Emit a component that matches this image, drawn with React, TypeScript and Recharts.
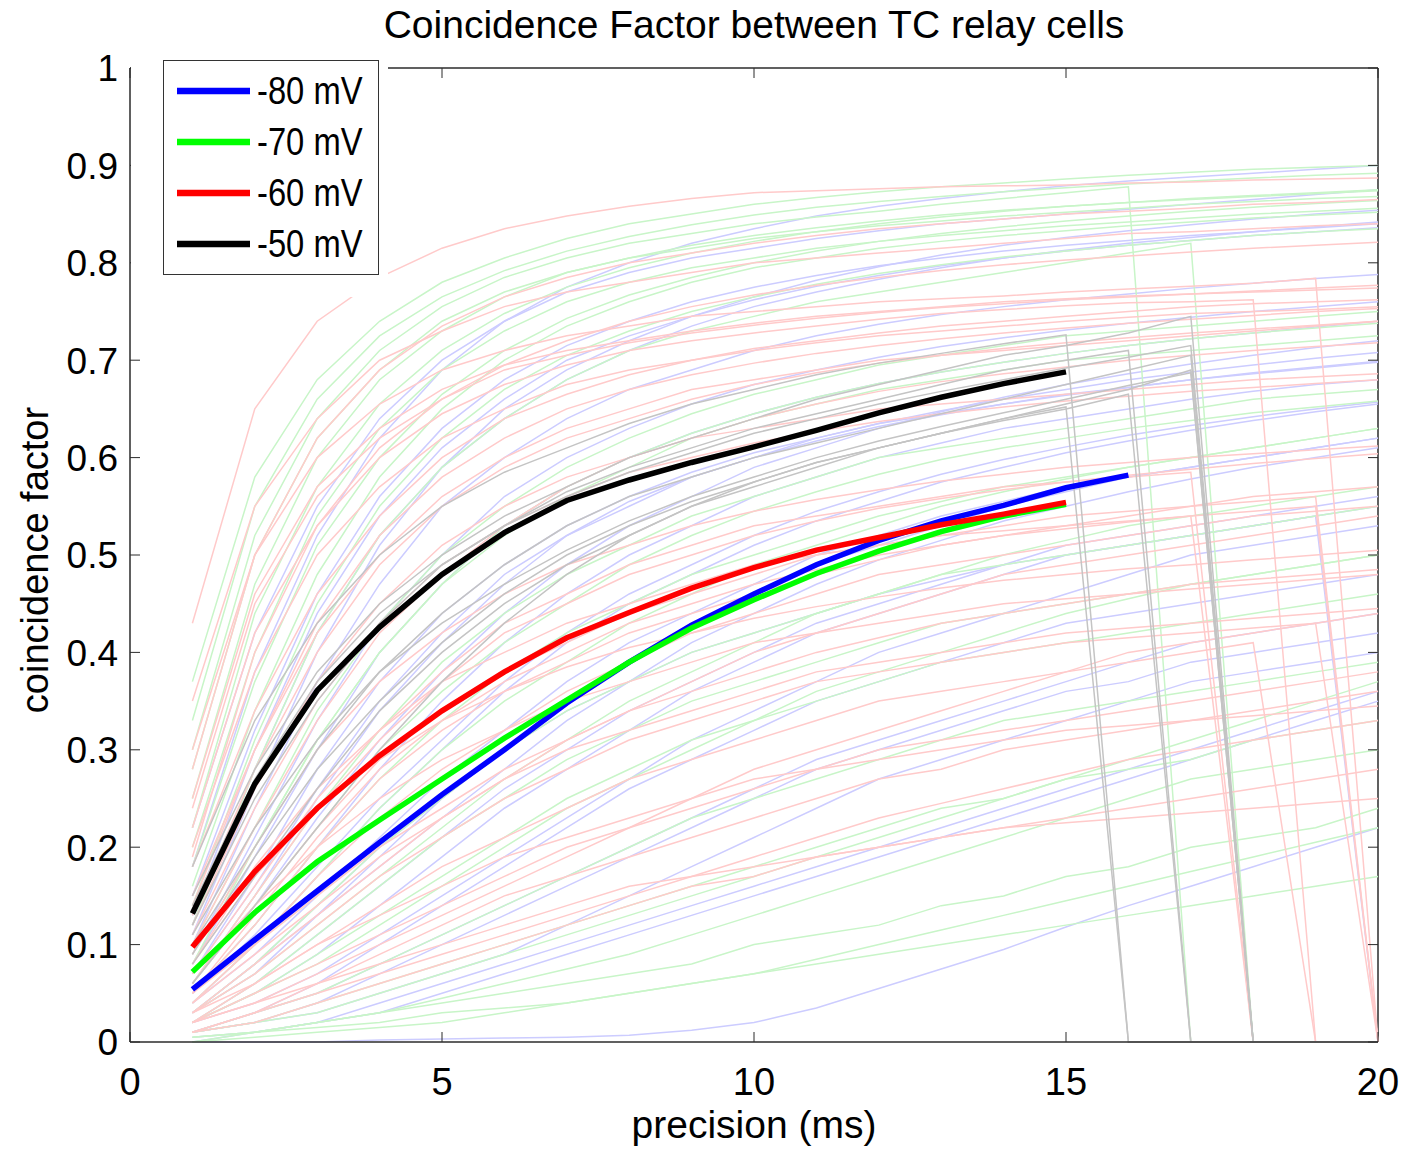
import React from 'react';
import { LineChart, Line, XAxis, YAxis, Legend, ReferenceLine } from 'recharts';

// precision windows (ms) at which the coincidence factor was computed
const PRECISION_MS = [1, 2, 3, 4, 5, 6, 7, 8, 9, 10, 11, 12, 13, 14, 15, 16, 17, 18, 19, 20];

// population means (thick lines)
const MEAN_80 = [0.054, 0.105, 0.155, 0.205, 0.254, 0.3, 0.348, 0.39, 0.428, 0.46, 0.49, 0.515, 0.535, 0.551, 0.569, 0.582];
const MEAN_70 = [0.072, 0.133, 0.185, 0.228, 0.27, 0.312, 0.351, 0.39, 0.425, 0.454, 0.481, 0.504, 0.524, 0.54, 0.552];
const MEAN_60 = [0.0975, 0.175, 0.24, 0.294, 0.34, 0.38, 0.415, 0.441, 0.466, 0.487, 0.505, 0.518, 0.531, 0.542, 0.554];
const MEAN_50 = [0.132, 0.265, 0.361, 0.426, 0.48, 0.523, 0.556, 0.577, 0.595, 0.611, 0.628, 0.646, 0.662, 0.676, 0.688];

// individual cell pairs (faint lines), zeros where the trace ran out
const TRIALS_80 = [
  [0.22, 0.42, 0.55, 0.64, 0.7, 0.74, 0.77, 0.79, 0.805, 0.815, 0.825, 0.833, 0.84, 0.845, 0.85, 0.855, 0.86, 0.865, 0.87, 0.875],
  [0.15, 0.32, 0.46, 0.56, 0.63, 0.68, 0.715, 0.74, 0.76, 0.775, 0.787, 0.797, 0.805, 0.812, 0.818, 0.823, 0.828, 0.832, 0.836, 0.84],
  [0.1, 0.24, 0.37, 0.47, 0.55, 0.6, 0.64, 0.67, 0.69, 0.71, 0.725, 0.737, 0.747, 0.755, 0.762, 0.768, 0.774, 0.779, 0.784, 0.788],
  [0.08, 0.19, 0.3, 0.4, 0.47, 0.53, 0.57, 0.6, 0.625, 0.645, 0.662, 0.676, 0.688, 0.698, 0.707, 0.715, 0.722, 0.728, 0.734, 0.74],
  [0.06, 0.15, 0.25, 0.34, 0.41, 0.47, 0.52, 0.55, 0.58, 0.6, 0.62, 0.635, 0.648, 0.66, 0.67, 0.68, 0.688, 0.695, 0.702, 0.708],
  [0.05, 0.12, 0.2, 0.28, 0.35, 0.41, 0.46, 0.5, 0.53, 0.56, 0.58, 0.6, 0.615, 0.63, 0.64, 0.65, 0.66, 0.668, 0.675, 0.68],
  [0.04, 0.1, 0.17, 0.24, 0.3, 0.36, 0.41, 0.45, 0.48, 0.51, 0.535, 0.555, 0.575, 0.59, 0.605, 0.617, 0.628, 0.638, 0.647, 0.655],
  [0.03, 0.07, 0.13, 0.19, 0.25, 0.3, 0.35, 0.39, 0.43, 0.46, 0.49, 0.51, 0.53, 0.55, 0.565, 0.58, 0.59, 0.6, 0.61, 0.62],
  [0.02, 0.05, 0.09, 0.14, 0.19, 0.24, 0.28, 0.32, 0.36, 0.39, 0.42, 0.44, 0.46, 0.48, 0.5, 0.51, 0.52, 0.53, 0.54, 0.55],
  [0.01, 0.03, 0.06, 0.1, 0.14, 0.18, 0.22, 0.26, 0.29, 0.32, 0.35, 0.37, 0.39, 0.41, 0.43, 0.44, 0.45, 0.46, 0.47, 0.48],
  [0.01, 0.02, 0.04, 0.07, 0.1, 0.13, 0.16, 0.19, 0.22, 0.25, 0.28, 0.3, 0.32, 0.34, 0.36, 0.37, 0.39, 0.4, 0.41, 0.42],
  [0, 0.01, 0.02, 0.03, 0.05, 0.07, 0.09, 0.11, 0.13, 0.15, 0.17, 0.19, 0.21, 0.23, 0.25, 0.27, 0.29, 0.31, 0.33, 0.35],
  [0, 0, 0, 0.002, 0.003, 0.004, 0.005, 0.007, 0.012, 0.02, 0.035, 0.055, 0.075, 0.095, 0.118, 0.14, 0.16, 0.18, 0.2, 0.22],
  [0.03, 0.08, 0.14, 0.2, 0.25, 0.3, 0.34, 0.37, 0.4, 0.42, 0.44, 0.46, 0.475, 0.49, 0.5, 0.51, 0.52, 0.53, 0.54, 0],
  [0.12, 0.28, 0.42, 0.52, 0.59, 0.64, 0.68, 0.71, 0.735, 0.755, 0.77, 0.783, 0.795, 0.805, 0.813, 0.82, 0.826, 0.832, 0.837, 0.842],
  [0.07, 0.17, 0.28, 0.37, 0.44, 0.49, 0.53, 0.56, 0.585, 0.605, 0.62, 0.635, 0.645, 0.655, 0.665, 0.672, 0.68, 0.686, 0.692, 0.698],
  [0.01, 0.02, 0.03, 0.05, 0.07, 0.09, 0.12, 0.15, 0.18, 0.21, 0.24, 0.27, 0.29, 0.31, 0.33, 0.35, 0.37, 0.38, 0.39, 0.4],
  [0.18, 0.38, 0.52, 0.62, 0.69, 0.74, 0.775, 0.8, 0.82, 0.835, 0.848, 0.858, 0.866, 0.873, 0.879, 0.884, 0.888, 0.892, 0.896, 0.9],
  [0.13, 0.3, 0.44, 0.54, 0.61, 0.66, 0.7, 0.725, 0.745, 0.762, 0.776, 0.787, 0.797, 0.805, 0.812, 0.818, 0.823, 0.828, 0.832, 0.836],
  [0.09, 0.21, 0.33, 0.43, 0.5, 0.56, 0.6, 0.63, 0.655, 0.675, 0.69, 0.703, 0.714, 0.723, 0.731, 0.738, 0.744, 0.75, 0.755, 0.76],
  [0.07, 0.16, 0.26, 0.35, 0.42, 0.48, 0.52, 0.555, 0.58, 0.6, 0.617, 0.632, 0.644, 0.655, 0.664, 0.672, 0.68, 0.687, 0.693, 0.699],
  [0.05, 0.11, 0.18, 0.25, 0.31, 0.37, 0.42, 0.46, 0.49, 0.52, 0.545, 0.565, 0.583, 0.598, 0.611, 0.623, 0.633, 0.642, 0.65, 0.657],
  [0.04, 0.09, 0.15, 0.21, 0.27, 0.32, 0.37, 0.41, 0.44, 0.47, 0.5, 0.52, 0.54, 0.555, 0.57, 0.58, 0.59, 0.6, 0.61, 0.62],
  [0.02, 0.06, 0.11, 0.16, 0.21, 0.26, 0.3, 0.34, 0.37, 0.4, 0.43, 0.45, 0.47, 0.49, 0.51, 0.52, 0.53, 0.54, 0.55, 0.56],
  [0.01, 0.03, 0.05, 0.08, 0.11, 0.14, 0.17, 0.2, 0.23, 0.26, 0.29, 0.31, 0.33, 0.35, 0.37, 0.39, 0.41, 0.42, 0.43, 0.44],
  [0.005, 0.01, 0.02, 0.04, 0.06, 0.08, 0.1, 0.12, 0.14, 0.16, 0.18, 0.2, 0.22, 0.24, 0.26, 0.28, 0.3, 0.32, 0.34, 0.36],
  [0.11, 0.26, 0.4, 0.51, 0.59, 0.65, 0.69, 0.72, 0.745, 0.765, 0.782, 0.796, 0.808, 0.818, 0.826, 0.833, 0.839, 0.845, 0.85, 0.854],
  [0.06, 0.14, 0.23, 0.31, 0.38, 0.44, 0.49, 0.53, 0.56, 0.59, 0.61, 0.63, 0.647, 0.662, 0.675, 0.686, 0.696, 0.705, 0.713, 0.72],
  [0.03, 0.08, 0.13, 0.18, 0.23, 0.28, 0.33, 0.37, 0.41, 0.44, 0.47, 0.495, 0.515, 0.535, 0.55, 0.565, 0.578, 0.59, 0.6, 0.61],
  [0.02, 0.04, 0.07, 0.11, 0.15, 0.19, 0.23, 0.27, 0.31, 0.34, 0.37, 0.4, 0.42, 0.44, 0.46, 0.48, 0.5, 0.51, 0.52, 0.53],
];

const TRIALS_70 = [
  [0.37, 0.58, 0.68, 0.74, 0.78, 0.805, 0.825, 0.84, 0.85, 0.86, 0.867, 0.873, 0.878, 0.882, 0.886, 0.89, 0.893, 0.896, 0.898, 0.9],
  [0.3, 0.52, 0.64, 0.71, 0.755, 0.785, 0.805, 0.82, 0.83, 0.84, 0.847, 0.853, 0.86, 0.866, 0.872, 0.878, 0, 0, 0, 0],
  [0.25, 0.47, 0.6, 0.68, 0.73, 0.765, 0.79, 0.805, 0.815, 0.825, 0.832, 0.838, 0.843, 0.848, 0.852, 0.856, 0.86, 0.863, 0.866, 0.868],
  [0.2, 0.4, 0.54, 0.63, 0.69, 0.73, 0.76, 0.78, 0.795, 0.805, 0.815, 0.822, 0.828, 0.833, 0.838, 0.842, 0.846, 0.85, 0.853, 0.856],
  [0.16, 0.34, 0.48, 0.58, 0.65, 0.7, 0.735, 0.76, 0.78, 0.795, 0.805, 0.815, 0.822, 0.828, 0.833, 0.838, 0.842, 0.846, 0.849, 0.852],
  [0.12, 0.28, 0.42, 0.52, 0.59, 0.64, 0.68, 0.71, 0.73, 0.745, 0.76, 0.77, 0.78, 0.79, 0.8, 0.81, 0.82, 0, 0, 0],
  [0.1, 0.22, 0.34, 0.43, 0.5, 0.55, 0.59, 0.62, 0.645, 0.665, 0.68, 0.695, 0.705, 0.715, 0.725, 0.73, 0.735, 0.74, 0.745, 0.75],
  [0.05, 0.12, 0.2, 0.27, 0.33, 0.38, 0.42, 0.45, 0.48, 0.5, 0.52, 0.54, 0.555, 0.57, 0.58, 0.59, 0.6, 0.61, 0.62, 0.63],
  [0.03, 0.08, 0.14, 0.2, 0.25, 0.3, 0.34, 0.37, 0.4, 0.42, 0.44, 0.46, 0.48, 0.49, 0.5, 0.51, 0.52, 0.53, 0.54, 0.55],
  [0.02, 0.05, 0.09, 0.13, 0.17, 0.21, 0.25, 0.28, 0.31, 0.33, 0.35, 0.37, 0.39, 0.4, 0.41, 0.42, 0.43, 0.44, 0.45, 0.46],
  [0.01, 0.02, 0.04, 0.06, 0.08, 0.1, 0.12, 0.14, 0.16, 0.18, 0.2, 0.22, 0.24, 0.25, 0.27, 0.28, 0.29, 0.31, 0.32, 0.33],
  [0.005, 0.01, 0.02, 0.03, 0.04, 0.05, 0.06, 0.07, 0.08, 0.1, 0.11, 0.12, 0.14, 0.15, 0.17, 0.18, 0.2, 0.21, 0.22, 0.24],
  [0, 0.01, 0.015, 0.02, 0.03, 0.035, 0.04, 0.05, 0.06, 0.07, 0.08, 0.09, 0.1, 0.11, 0.12, 0.13, 0.14, 0.15, 0.16, 0.17],
  [0.06, 0.15, 0.24, 0.32, 0.39, 0.44, 0.48, 0.51, 0.54, 0.56, 0.58, 0.6, 0.61, 0.62, 0.63, 0.64, 0.65, 0.66, 0.665, 0.67],
  [0.02, 0.06, 0.11, 0.16, 0.21, 0.25, 0.29, 0.32, 0.35, 0.37, 0.39, 0.41, 0.43, 0.44, 0.45, 0.46, 0.47, 0.48, 0.49, 0.5],
  [0.08, 0.2, 0.31, 0.4, 0.47, 0.52, 0.56, 0.59, 0.62, 0.64, 0.655, 0.67, 0.68, 0.69, 0.7, 0.705, 0.71, 0.715, 0.72, 0.725],
  [0.01, 0.03, 0.05, 0.08, 0.11, 0.14, 0.17, 0.2, 0.23, 0.25, 0.27, 0.29, 0.31, 0.33, 0.34, 0.35, 0.36, 0.37, 0.38, 0.39],
  [0.28, 0.5, 0.62, 0.69, 0.74, 0.77, 0.79, 0.805, 0.818, 0.828, 0.836, 0.843, 0.849, 0.854, 0.858, 0.862, 0.865, 0.868, 0.871, 0.874],
  [0.33, 0.55, 0.66, 0.725, 0.765, 0.792, 0.812, 0.827, 0.839, 0.849, 0.857, 0.863, 0.868, 0.873, 0.877, 0.881, 0.884, 0.887, 0.89, 0.892],
  [0.22, 0.44, 0.57, 0.655, 0.71, 0.748, 0.775, 0.795, 0.81, 0.822, 0.832, 0.84, 0.847, 0.853, 0.858, 0.862, 0.866, 0.869, 0.872, 0.875],
  [0.14, 0.31, 0.45, 0.55, 0.62, 0.67, 0.705, 0.73, 0.75, 0.765, 0.778, 0.789, 0.798, 0.806, 0.812, 0.818, 0.823, 0.828, 0.832, 0.835],
  [0.09, 0.2, 0.31, 0.4, 0.47, 0.53, 0.57, 0.6, 0.625, 0.645, 0.662, 0.676, 0.688, 0.698, 0.707, 0.715, 0.722, 0.728, 0.733, 0.738],
  [0.04, 0.1, 0.17, 0.24, 0.3, 0.35, 0.39, 0.43, 0.46, 0.49, 0.51, 0.53, 0.55, 0.565, 0.578, 0.59, 0.6, 0.61, 0.62, 0.63],
  [0.02, 0.05, 0.08, 0.12, 0.16, 0.2, 0.24, 0.27, 0.3, 0.33, 0.36, 0.38, 0.4, 0.42, 0.44, 0.455, 0.47, 0.48, 0.49, 0.5],
  [0.01, 0.02, 0.03, 0.05, 0.07, 0.09, 0.11, 0.13, 0.15, 0.17, 0.19, 0.21, 0.23, 0.25, 0.27, 0.29, 0.31, 0.33, 0.35, 0.37],
  [0, 0.005, 0.01, 0.015, 0.02, 0.03, 0.04, 0.05, 0.06, 0.07, 0.085, 0.1, 0.115, 0.13, 0.145, 0.16, 0.175, 0.19, 0.205, 0.22],
  [0.005, 0.01, 0.02, 0.03, 0.045, 0.06, 0.075, 0.09, 0.11, 0.13, 0.15, 0.17, 0.19, 0.21, 0.23, 0.25, 0.27, 0.28, 0.29, 0.3],
  [0.06, 0.14, 0.22, 0.3, 0.36, 0.41, 0.45, 0.49, 0.52, 0.545, 0.565, 0.583, 0.598, 0.61, 0.62, 0.63, 0.638, 0.646, 0.652, 0.658],
  [0.18, 0.37, 0.51, 0.6, 0.665, 0.71, 0.743, 0.767, 0.785, 0.8, 0.812, 0.822, 0.83, 0.837, 0.843, 0.848, 0.853, 0.857, 0.861, 0.864],
  [0.03, 0.07, 0.12, 0.17, 0.22, 0.27, 0.31, 0.35, 0.38, 0.41, 0.44, 0.46, 0.48, 0.5, 0.515, 0.53, 0.54, 0.55, 0.56, 0.57],
];

const TRIALS_60 = [
  [0.43, 0.65, 0.74, 0.785, 0.815, 0.835, 0.848, 0.858, 0.866, 0.872, 0.874, 0.876, 0.878, 0.879, 0.88, 0.882, 0.883, 0.885, 0.886, 0.887],
  [0.35, 0.55, 0.64, 0.7, 0.73, 0.755, 0.77, 0.78, 0.79, 0.8, 0.805, 0.81, 0.815, 0.82, 0.825, 0.83, 0.832, 0.835, 0.838, 0.84],
  [0.3, 0.5, 0.6, 0.655, 0.69, 0.71, 0.725, 0.735, 0.745, 0.75, 0.755, 0.76, 0.763, 0.766, 0.77, 0.773, 0.776, 0.779, 0.784, 0],
  [0.25, 0.46, 0.57, 0.63, 0.67, 0.695, 0.71, 0.72, 0.73, 0.738, 0.745, 0.75, 0.755, 0.76, 0.763, 0.766, 0.768, 0.77, 0.772, 0.774],
  [0.22, 0.42, 0.53, 0.6, 0.645, 0.675, 0.695, 0.71, 0.72, 0.728, 0.735, 0.742, 0.748, 0.752, 0.756, 0.759, 0.76, 0.762, 0, 0],
  [0.2, 0.38, 0.5, 0.57, 0.62, 0.65, 0.675, 0.69, 0.7, 0.71, 0.718, 0.725, 0.73, 0.735, 0.74, 0.744, 0.748, 0.75, 0.752, 0.755],
  [0.28, 0.5, 0.62, 0.69, 0.735, 0.765, 0.785, 0.8, 0.81, 0.82, 0.828, 0.835, 0.84, 0.845, 0.85, 0.853, 0.856, 0.86, 0.862, 0.865],
  [0.18, 0.34, 0.46, 0.54, 0.6, 0.64, 0.665, 0.685, 0.7, 0.712, 0.72, 0.728, 0.735, 0.74, 0.745, 0.75, 0.755, 0.758, 0.76, 0.762],
  [0.06, 0.14, 0.22, 0.29, 0.34, 0.38, 0.41, 0.44, 0.46, 0.48, 0.5, 0.51, 0.52, 0.53, 0.54, 0.545, 0.55, 0.56, 0.565, 0.57],
  [0.04, 0.1, 0.17, 0.23, 0.28, 0.32, 0.36, 0.39, 0.42, 0.44, 0.46, 0.48, 0.49, 0.5, 0.51, 0.52, 0.53, 0.54, 0.545, 0.55],
  [0.08, 0.18, 0.26, 0.32, 0.37, 0.4, 0.43, 0.45, 0.47, 0.49, 0.5, 0.51, 0.52, 0.525, 0.53, 0.535, 0.54, 0, 0, 0],
  [0.03, 0.08, 0.13, 0.18, 0.23, 0.27, 0.31, 0.34, 0.37, 0.4, 0.42, 0.44, 0.46, 0.48, 0.49, 0.5, 0.51, 0.52, 0.53, 0.54],
  [0.05, 0.12, 0.2, 0.27, 0.32, 0.36, 0.39, 0.42, 0.44, 0.46, 0.48, 0.495, 0.51, 0.52, 0.53, 0.54, 0.55, 0.555, 0.56, 0],
  [0.02, 0.05, 0.08, 0.11, 0.14, 0.17, 0.2, 0.22, 0.24, 0.26, 0.28, 0.3, 0.31, 0.32, 0.33, 0.34, 0.35, 0.36, 0.37, 0.38],
  [0.01, 0.03, 0.06, 0.09, 0.12, 0.15, 0.17, 0.19, 0.21, 0.23, 0.25, 0.27, 0.28, 0.3, 0.31, 0.32, 0.33, 0.34, 0.35, 0.36],
  [0.12, 0.26, 0.37, 0.45, 0.51, 0.55, 0.58, 0.6, 0.62, 0.63, 0.64, 0.65, 0.655, 0.66, 0.665, 0.67, 0.675, 0.68, 0.683, 0.686],
  [0.15, 0.3, 0.42, 0.5, 0.56, 0.6, 0.63, 0.65, 0.67, 0.68, 0.69, 0.7, 0.705, 0.71, 0.715, 0.72, 0.725, 0.73, 0.735, 0.74],
  [0.03, 0.07, 0.12, 0.17, 0.21, 0.25, 0.28, 0.31, 0.33, 0.35, 0.37, 0.38, 0.39, 0.4, 0.41, 0.415, 0.42, 0.425, 0.43, 0],
  [0.02, 0.06, 0.1, 0.14, 0.18, 0.21, 0.24, 0.27, 0.29, 0.31, 0.33, 0.35, 0.36, 0.37, 0.38, 0.39, 0.4, 0.41, 0, 0],
  [0.07, 0.16, 0.25, 0.32, 0.38, 0.43, 0.46, 0.49, 0.51, 0.53, 0.54, 0.55, 0.56, 0.57, 0.575, 0.58, 0.585, 0, 0, 0],
  [0.01, 0.02, 0.04, 0.06, 0.08, 0.1, 0.12, 0.14, 0.16, 0.17, 0.19, 0.2, 0.21, 0.22, 0.23, 0.24, 0.25, 0.26, 0.27, 0.28],
  [0.1, 0.22, 0.33, 0.42, 0.48, 0.53, 0.57, 0.6, 0.62, 0.64, 0.655, 0.668, 0.678, 0.686, 0.693, 0.7, 0.705, 0.71, 0.714, 0.718],
  [0.02, 0.04, 0.07, 0.1, 0.13, 0.16, 0.19, 0.22, 0.25, 0.28, 0.3, 0.32, 0.34, 0.36, 0.38, 0.4, 0.41, 0.42, 0.43, 0.44],
  [0.14, 0.3, 0.43, 0.52, 0.58, 0.62, 0.65, 0.67, 0.685, 0.697, 0.707, 0.715, 0.722, 0.728, 0.733, 0.738, 0.742, 0.746, 0.75, 0.753],
  [0.11, 0.24, 0.35, 0.43, 0.49, 0.53, 0.56, 0.585, 0.6, 0.615, 0.627, 0.637, 0.645, 0.652, 0.658, 0.663, 0.668, 0.672, 0.676, 0.68],
  [0.09, 0.2, 0.3, 0.37, 0.42, 0.46, 0.49, 0.51, 0.53, 0.545, 0.557, 0.567, 0.576, 0.583, 0.59, 0.595, 0.6, 0.604, 0.608, 0.612],
  [0.05, 0.13, 0.21, 0.28, 0.33, 0.37, 0.4, 0.43, 0.45, 0.47, 0.485, 0.5, 0.51, 0.52, 0.527, 0.534, 0.54, 0.545, 0.55, 0],
  [0.04, 0.09, 0.14, 0.19, 0.23, 0.27, 0.3, 0.32, 0.34, 0.36, 0.38, 0.39, 0.4, 0.41, 0.42, 0.425, 0.43, 0.435, 0.44, 0.445],
  [0.03, 0.06, 0.1, 0.13, 0.16, 0.19, 0.21, 0.23, 0.25, 0.27, 0.28, 0.29, 0.3, 0.31, 0.32, 0.325, 0.33, 0.335, 0.34, 0.345],
  [0.02, 0.04, 0.06, 0.08, 0.1, 0.12, 0.14, 0.16, 0.17, 0.18, 0.19, 0.2, 0.21, 0.22, 0.225, 0.23, 0.235, 0.24, 0.245, 0.25],
  [0.13, 0.28, 0.4, 0.49, 0.55, 0.59, 0.62, 0.64, 0.66, 0.675, 0.687, 0.697, 0.705, 0.712, 0.718, 0.723, 0.728, 0.732, 0.736, 0.74],
  [0.24, 0.45, 0.56, 0.62, 0.66, 0.69, 0.705, 0.718, 0.728, 0.736, 0.743, 0.749, 0.754, 0.758, 0.762, 0.765, 0.768, 0.771, 0.774, 0.777],
  [0.06, 0.15, 0.24, 0.31, 0.37, 0.42, 0.45, 0.48, 0.5, 0.52, 0.535, 0.548, 0.558, 0.567, 0.575, 0.582, 0.588, 0.594, 0.599, 0.604],
  [0.08, 0.17, 0.24, 0.29, 0.33, 0.36, 0.385, 0.405, 0.42, 0.435, 0.447, 0.457, 0.466, 0.474, 0.48, 0.486, 0.49, 0.495, 0.5, 0.505],
  [0.05, 0.1, 0.15, 0.2, 0.24, 0.28, 0.31, 0.34, 0.36, 0.38, 0.4, 0.415, 0.43, 0.44, 0.45, 0.46, 0.47, 0.475, 0.48, 0.485],
  [0.19, 0.4, 0.53, 0.61, 0.66, 0.695, 0.72, 0.74, 0.755, 0.767, 0.777, 0.785, 0.792, 0.798, 0.803, 0.807, 0.811, 0.815, 0.818, 0.821],
  [0.01, 0.03, 0.05, 0.07, 0.09, 0.11, 0.13, 0.15, 0.17, 0.19, 0.21, 0.23, 0.245, 0.26, 0.275, 0.29, 0.3, 0.31, 0.32, 0.33],
  [0.07, 0.14, 0.2, 0.25, 0.29, 0.32, 0.35, 0.37, 0.39, 0.41, 0.42, 0.43, 0.44, 0.45, 0.455, 0.46, 0.465, 0.47, 0.475, 0.48],
];

const TRIALS_50 = [
  [0.18, 0.33, 0.43, 0.5, 0.55, 0.585, 0.61, 0.635, 0.655, 0.67, 0.685, 0.697, 0.707, 0.717, 0.726, 0, 0, 0, 0, 0],
  [0.12, 0.25, 0.35, 0.43, 0.49, 0.53, 0.565, 0.59, 0.61, 0.63, 0.645, 0.66, 0.675, 0.69, 0.7, 0.71, 0, 0, 0, 0],
  [0.15, 0.28, 0.38, 0.45, 0.5, 0.54, 0.57, 0.6, 0.62, 0.64, 0.66, 0.675, 0.69, 0.705, 0.715, 0.728, 0.745, 0, 0, 0],
  [0.08, 0.17, 0.26, 0.34, 0.4, 0.45, 0.49, 0.52, 0.55, 0.57, 0.59, 0.61, 0.625, 0.64, 0.655, 0.67, 0.69, 0, 0, 0],
  [0.1, 0.2, 0.3, 0.38, 0.44, 0.49, 0.53, 0.56, 0.58, 0.6, 0.615, 0.63, 0.645, 0.66, 0.675, 0.69, 0.705, 0, 0, 0],
  [0.06, 0.14, 0.22, 0.3, 0.37, 0.43, 0.48, 0.52, 0.55, 0.575, 0.595, 0.61, 0.625, 0.638, 0.65, 0.665, 0, 0, 0, 0],
  [0.14, 0.27, 0.37, 0.44, 0.49, 0.53, 0.56, 0.585, 0.605, 0.625, 0.64, 0.655, 0.668, 0.68, 0.692, 0.703, 0.715, 0, 0, 0],
  [0.09, 0.19, 0.28, 0.35, 0.41, 0.46, 0.5, 0.53, 0.555, 0.575, 0.595, 0.61, 0.625, 0.64, 0.652, 0, 0, 0, 0, 0],
  [0.11, 0.22, 0.31, 0.38, 0.43, 0.47, 0.505, 0.535, 0.56, 0.58, 0.6, 0.617, 0.632, 0.646, 0.66, 0.674, 0.687, 0, 0, 0],
];

const SERIES_NAMES = ['-80 mV', '-70 mV', '-60 mV', '-50 mV'];
const X_TICKS = [0, 5, 10, 15, 20];
const Y_TICKS = [0, 0.1, 0.2, 0.3, 0.4, 0.5, 0.6, 0.7, 0.8, 0.9, 1];

// layout
const W = 1409;
const H = 1150;
const PLOT = { left: 130, top: 68, right: 1378, bottom: 1042 };
const FONT = '"Liberation Sans", Arial, Helvetica, sans-serif';
const AXIS_COLOR = '#2b2b2b';
const TICK_LEN = 10;

const toPoints = (vals: number[]) => vals.map((v, i) => ({ x: PRECISION_MS[i], y: v }));

const YTick = (props: any) => {
  const { y, payload } = props;
  return (
    <g>
      <line x1={PLOT.left} x2={PLOT.left + TICK_LEN} y1={y} y2={y} stroke={AXIS_COLOR} />
      <line x1={PLOT.right} x2={PLOT.right - TICK_LEN} y1={y} y2={y} stroke={AXIS_COLOR} />
      <text x={PLOT.left - 12} y={y} dy="0.36em" textAnchor="end" fontSize={37} fontFamily={FONT} fill="#000">
        {String(payload.value)}
      </text>
    </g>
  );
};

const XTick = (props: any) => {
  const { x, payload } = props;
  return (
    <g>
      <line x1={x} x2={x} y1={PLOT.bottom} y2={PLOT.bottom - TICK_LEN} stroke={AXIS_COLOR} />
      <line x1={x} x2={x} y1={PLOT.top} y2={PLOT.top + TICK_LEN} stroke={AXIS_COLOR} />
      <text x={x} y={PLOT.bottom + 53} textAnchor="middle" fontSize={38} fontFamily={FONT} fill="#000">
        {String(payload.value)}
      </text>
    </g>
  );
};

const YAxisLabel = () => (
  <text
    x={34}
    y={560}
    dy="0.36em"
    transform="rotate(-90, 34, 560)"
    textAnchor="middle"
    fontSize={38}
    fontFamily={FONT}
    fill="#000"
  >
    coincidence factor
  </text>
);

const LegendBox = (props: any) => {
  const items = (props.payload || [])
    .filter((it: any) => SERIES_NAMES.includes(it.value))
    .sort((a: any, b: any) => SERIES_NAMES.indexOf(a.value) - SERIES_NAMES.indexOf(b.value));
  return (
    <div style={{ width: 257, height: 247, background: '#fff', position: 'relative' }}>
      <div
        style={{
          position: 'absolute',
          left: 32,
          top: 10,
          width: 216,
          height: 215,
          border: '1.5px solid #333',
          boxSizing: 'border-box',
          background: '#fff',
        }}
      >
        <svg width={213} height={212} style={{ display: 'block' }}>
          {items.map((it: any, i: number) => (
            <g key={it.value}>
              <line x1={13} x2={86} y1={30 + i * 51} y2={30 + i * 51} stroke={it.color} strokeWidth={6.5} />
              {/* the legend font is a condensed sans; squeeze it horizontally */}
              <text
                transform={`translate(93, ${43 + i * 51}) scale(0.84, 1)`}
                fontSize={39}
                fontFamily={FONT}
                fill="#000"
              >
                {it.value}
              </text>
            </g>
          ))}
        </svg>
      </div>
    </div>
  );
};

const faint = (trials: number[][], color: string, tag: string) =>
  trials.map((vals, i) => (
    <Line
      key={`${tag}-${i}`}
      data={toPoints(vals)}
      dataKey="y"
      type="linear"
      stroke={color}
      strokeWidth={1.5}
      dot={false}
      activeDot={false}
      legendType="none"
      isAnimationActive={false}
    />
  ));

export default function App() {
  return (
    <div
      style={{
        position: 'absolute',
        left: 0,
        top: 0,
        width: W,
        height: H,
        background: '#fff',
        fontFamily: FONT,
      }}
    >
      <div
        style={{
          position: 'absolute',
          left: PLOT.left,
          width: PLOT.right - PLOT.left,
          top: 5,
          textAlign: 'center',
          fontSize: 39,
          lineHeight: '39px',
          color: '#000',
          zIndex: 2,
        }}
      >
        Coincidence Factor between TC relay cells
      </div>
      <LineChart width={W} height={H} margin={{ top: PLOT.top, right: W - PLOT.right, left: 0, bottom: 0 }}>
        <XAxis
          type="number"
          dataKey="x"
          domain={[0, 20]}
          ticks={X_TICKS}
          interval={0}
          height={H - PLOT.bottom}
          tickLine={false}
          tick={(p: any) => <XTick {...p} />}
          axisLine={{ stroke: AXIS_COLOR, strokeWidth: 1.5 }}
          label={{ value: 'precision (ms)', position: 'insideBottom', offset: 12, fontSize: 39, fill: '#000' }}
        />
        <YAxis
          type="number"
          domain={[0, 1]}
          ticks={Y_TICKS}
          interval={0}
          width={PLOT.left}
          tickLine={false}
          tick={(p: any) => <YTick {...p} />}
          axisLine={{ stroke: AXIS_COLOR, strokeWidth: 1.5 }}
          label={<YAxisLabel />}
        />
        <ReferenceLine y={1} stroke={AXIS_COLOR} strokeWidth={1.5} />
        <ReferenceLine x={20} stroke={AXIS_COLOR} strokeWidth={1.5} />

        {faint(TRIALS_80, '#ccccff', 'b')}
        {faint(TRIALS_70, '#c8f5c8', 'g')}
        {faint(TRIALS_60, '#ffcaca', 'r')}
        {faint(TRIALS_50, '#c4c4c4', 'k')}

        <Line data={toPoints(MEAN_80)} dataKey="y" name={SERIES_NAMES[0]} type="linear" stroke="#0000ff" strokeWidth={5.5} dot={false} activeDot={false} isAnimationActive={false} />
        <Line data={toPoints(MEAN_70)} dataKey="y" name={SERIES_NAMES[1]} type="linear" stroke="#00ff00" strokeWidth={5.5} dot={false} activeDot={false} isAnimationActive={false} />
        <Line data={toPoints(MEAN_60)} dataKey="y" name={SERIES_NAMES[2]} type="linear" stroke="#ff0000" strokeWidth={5.5} dot={false} activeDot={false} isAnimationActive={false} />
        <Line data={toPoints(MEAN_50)} dataKey="y" name={SERIES_NAMES[3]} type="linear" stroke="#000000" strokeWidth={5.5} dot={false} activeDot={false} isAnimationActive={false} />

        <Legend
          layout="vertical"
          align="center"
          verticalAlign="middle"
          content={(p: any) => <LegendBox {...p} />}
          wrapperStyle={{ left: PLOT.left + 1, top: 50, width: 257, height: 247 }}
        />
      </LineChart>
    </div>
  );
}
